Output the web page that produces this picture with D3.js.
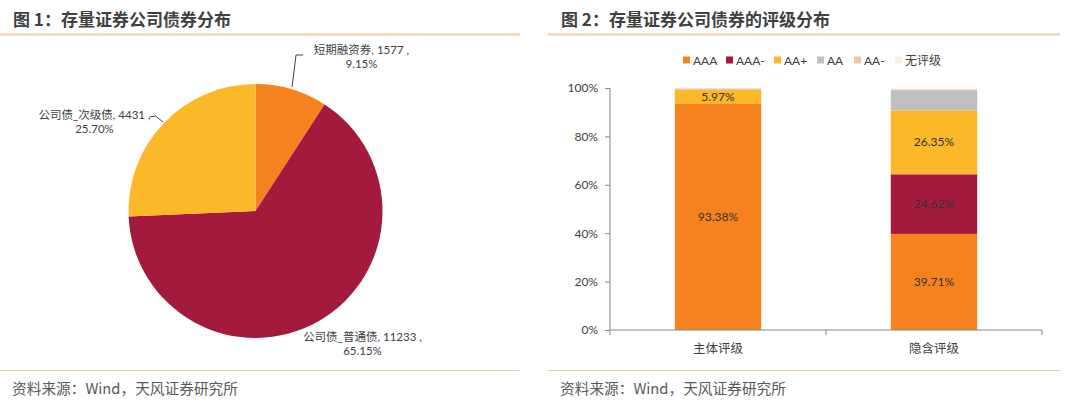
<!DOCTYPE html>
<html>
<head>
<meta charset="utf-8">
<script src="https://cdn.jsdelivr.net/npm/d3@7"></script>
<style>
  body { margin: 0; background: #fff; }
  svg { font-family: Lato, "Noto Sans CJK SC", sans-serif; }
</style>
</head>
<body>
<script>
// pie data
var pieNames = ["短期融资券", "公司债_普通债", "公司债_次级债"];
var pieCounts = [1577, 11233, 4431];
var piePct = ["9.15%", "65.15%", "25.70%"];
var pieColors = ["#f5821f", "#a31a3c", "#fbb829"];

// stacked bar data (percent)
var barCats = ["主体评级", "隐含评级"];
var ratings = ["AAA", "AAA-", "AA+", "AA", "AA-", "无评级"];
var ratingColors = ["#f5821f", "#a31a3c", "#fbb829", "#bfbfbf", "#f7c39b", "#fbeee4"];
var barValues = [
  [93.38, 0, 5.97, 0.4, 0.15, 0.1],
  [39.71, 24.62, 26.35, 8.4, 0.4, 0.3]
];
var shownLabels = [
  [true, false, true, false, false, false],
  [true, true, true, false, false, false]
];
var yTicks = [0, 20, 40, 60, 80, 100];

var W = 1080, H = 403;
var svg = d3.select("body").append("svg").attr("width", W).attr("height", H);

// panel frames: titles, rules, source
function panelFrame(x0, x1, title) {
  svg.append("text")
    .attr("x", x0 + 13).attr("y", 26)
    .style("font-family", "'Noto Sans CJK SC', sans-serif")
    .style("font-weight", "bold").style("font-size", "17px")
    .style("fill", "#404040")
    .text(title);
  svg.append("line")
    .attr("x1", x0).attr("x2", x1).attr("y1", 34.5).attr("y2", 34.5)
    .style("stroke", "#f7c9a4").style("stroke-width", 2);
  svg.append("line")
    .attr("x1", x0).attr("x2", x1).attr("y1", 370.5).attr("y2", 370.5)
    .style("stroke", "#e6cda6").style("stroke-width", 1);
  svg.append("text")
    .attr("x", x0 + 12).attr("y", 394)
    .style("font-family", "'Noto Sans CJK SC', sans-serif")
    .style("font-size", "14.7px").style("fill", "#595959")
    .text("资料来源：Wind，天风证券研究所");
}
panelFrame(0, 520, "图 1：存量证券公司债券分布");
panelFrame(548, 1060, "图 2：存量证券公司债券的评级分布");

// ---- pie ----
var cx = 255.5, cy = 211, r = 127;
var pie = d3.pie().sort(null).value(function (d) { return d; });
var arcs = pie(pieCounts);
var arc = d3.arc().innerRadius(0).outerRadius(r);
var pg = svg.append("g").attr("transform", "translate(" + cx + "," + cy + ")");
pg.selectAll("path")
  .data(arcs)
  .enter()
  .append("path")
  .attr("d", arc)
  .style("fill", function (d, i) { return pieColors[i]; });

// label positions relative to pie centre
var labelPos = [[106, -157], [107, 130], [-161, -92]];
var leaders = [
  [[36.5, -124], [40.5, -156], [47.5, -156]],
  null,
  [[-106, -94], [-100, -95], [-92.5, -89]]
];
arcs.forEach(function (a, i) {
  var g = pg.append("g");
  if (leaders[i]) {
    g.append("path")
      .attr("d", d3.line()(leaders[i]))
      .style("fill", "none").style("stroke", "#404040").style("stroke-width", 1);
  }
  var t = g.append("text")
    .attr("x", labelPos[i][0]).attr("y", labelPos[i][1])
    .attr("text-anchor", "middle")
    .style("font-size", "11.5px").style("fill", "#404040");
  t.append("tspan").attr("x", labelPos[i][0]).attr("dy", 0)
    .text(pieNames[i] + ", " + pieCounts[i] + " ,");
  t.append("tspan").attr("x", labelPos[i][0]).attr("dy", 14)
    .text(piePct[i]);
});

// ---- stacked bars ----
var bm = { left: 610, right: 1042, top: 88, bottom: 330 };
var x = d3.scaleBand().domain(barCats).range([bm.left, bm.right]).paddingInner(0.6).paddingOuter(0.3);
var y = d3.scaleLinear().domain([0, 100]).range([bm.bottom, bm.top]);

var rows = barCats.map(function (c, i) {
  var o = { cat: c };
  ratings.forEach(function (k, j) { o[k] = barValues[i][j]; });
  return o;
});
var series = d3.stack().keys(ratings)(rows);

var bg = svg.append("g");
series.forEach(function (s, j) {
  bg.selectAll(null)
    .data(s)
    .enter()
    .append("rect")
    .attr("x", function (d) { return x(d.data.cat); })
    .attr("width", x.bandwidth())
    .attr("y", function (d) { return y(d[1]); })
    .attr("height", function (d) { return y(d[0]) - y(d[1]); })
    .style("fill", ratingColors[j]);
  bg.selectAll(null)
    .data(s.filter(function (d, i) { return shownLabels[i][j]; }))
    .enter()
    .append("text")
    .attr("x", function (d) { return x(d.data.cat) + x.bandwidth() / 2; })
    .attr("y", function (d) { return (y(d[0]) + y(d[1])) / 2 + 4; })
    .attr("text-anchor", "middle")
    .style("font-size", "12px").style("fill", "#333")
    .text(function (d) { return (d[1] - d[0]).toFixed(2) + "%"; });
});

// y axis
var yAxis = d3.axisLeft(y).tickValues(yTicks).tickSize(5).tickPadding(7)
  .tickFormat(function (d) { return d + "%"; });
var ya = svg.append("g").attr("transform", "translate(" + bm.left + ",0)").call(yAxis);
ya.select(".domain").attr("d", "M0," + bm.top + "V" + bm.bottom);
ya.selectAll("line").style("stroke", "#868686");
ya.select(".domain").style("stroke", "#868686");
ya.selectAll("text").style("font-size", "12px").style("fill", "#404040")
  .style("font-family", "Lato, sans-serif");

// x axis
var xa = svg.append("g").attr("transform", "translate(0," + bm.bottom + ")");
xa.append("line").attr("x1", bm.left).attr("x2", bm.right)
  .style("stroke", "#868686");
[bm.left, (bm.left + bm.right) / 2, bm.right].forEach(function (tx) {
  xa.append("line").attr("x1", tx).attr("x2", tx).attr("y1", 0).attr("y2", 5)
    .style("stroke", "#868686");
});
xa.selectAll(null)
  .data(barCats)
  .enter()
  .append("text")
  .attr("x", function (d) { return x(d) + x.bandwidth() / 2; })
  .attr("y", 23)
  .attr("text-anchor", "middle")
  .style("font-family", "'Noto Sans CJK SC', sans-serif")
  .style("font-size", "12.5px").style("fill", "#404040")
  .text(function (d) { return d; });

// legend
var legX = [683, 726, 774, 817, 854, 895];
var lg = svg.append("g").attr("transform", "translate(0,60)");
ratings.forEach(function (k, j) {
  lg.append("rect").attr("x", legX[j]).attr("y", -3.5).attr("width", 7).attr("height", 7)
    .style("fill", ratingColors[j]);
  lg.append("text").attr("x", legX[j] + 10).attr("y", 4.5)
    .style("font-size", "12px").style("fill", "#404040")
    .text(k);
});
</script>
</body>
</html>
